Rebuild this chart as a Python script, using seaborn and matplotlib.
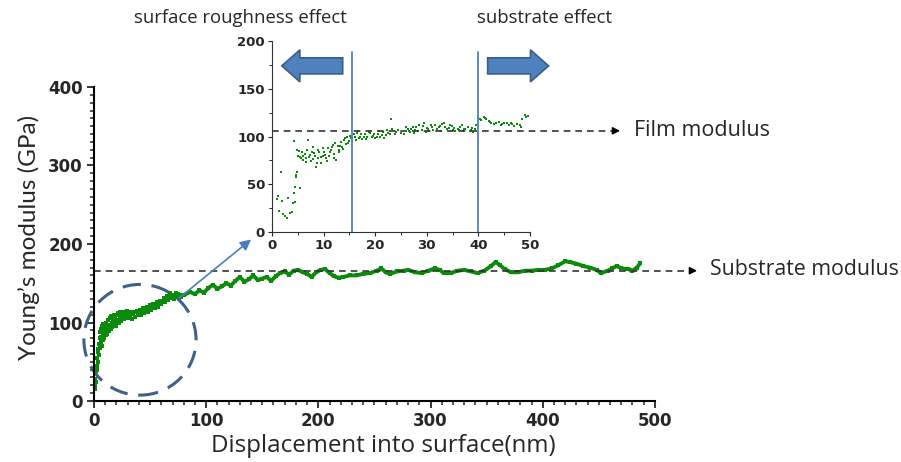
import matplotlib
matplotlib.use("Agg")
import matplotlib.pyplot as plt
from matplotlib.patches import Ellipse
from matplotlib.ticker import MultipleLocator
import seaborn as sns
import pandas as pd

# main curve, noisy start (displacement nm, modulus GPa)
early_x = [0.5, 1, 1.2, 1.5, 2, 2.3, 2.6, 3, 3.3, 3.6,
           4, 4.3, 4.6, 5, 5.3, 5.6, 6, 6.3, 6.6, 7,
           7.3, 7.6, 8, 8.4, 8.8, 9.2, 9.6, 10, 10.5, 11,
           11.5, 12, 12.5, 13, 13.5, 14, 14.5, 15, 15.5, 16,
           16.5, 17, 17.5, 18, 18.5, 19, 19.5, 20, 21, 21.5,
           22, 23, 23.5, 24, 25, 25.5, 26, 27, 28, 28.5,
           29, 30, 31, 32, 33, 34, 35, 36, 37, 38,
           39, 40, 41, 42, 43, 44, 45, 46, 47, 48,
           49, 50, 51, 52, 53, 54, 55, 56, 57, 58,
           59, 60, 61, 62, 63, 64, 65, 66, 67, 68,
           69, 70, 71, 72, 73, 74, 75, 76, 77, 78]
early_y = [15, 28, 20, 38, 24, 45, 55, 40, 62, 50,
           66, 72, 58, 80, 68, 88, 75, 92, 82, 70,
           95, 85, 78, 98, 88, 80, 96, 90, 84, 100,
           92, 86, 103, 95, 89, 106, 97, 92, 108, 99,
           94, 104, 110, 98, 105, 101, 96, 109, 103, 112,
           99, 107, 113, 102, 110, 105, 114, 104, 111, 107,
           115, 106, 112, 108, 114, 105, 111, 113, 107, 115,
           109, 112, 116, 110, 114, 118, 112, 116, 120, 114,
           118, 122, 116, 120, 124, 118, 122, 126, 120, 125,
           128, 123, 127, 131, 126, 130, 134, 129, 133, 137,
           131, 135, 130, 134, 138, 132, 136, 131, 135, 133]

# main curve, smoother tail
tail_x = [80, 86, 90, 94, 98, 102, 106, 110, 114, 118, 122, 126, 130, 134, 138, 142, 146, 150,
          154, 158, 162, 166, 170, 174, 178, 182, 186, 190, 194, 198, 202, 206, 210, 214, 218,
          222, 228, 234, 240, 246, 252, 256, 260, 264, 270, 276, 280, 286, 292, 298, 304, 308,
          312, 318, 324, 330, 336, 342, 348, 354, 358, 362, 366, 372, 378, 384, 390, 396, 402,
          408, 414, 420, 424, 430, 436, 442, 448, 452, 458, 462, 466, 470, 476, 480, 484, 487]
tail_y = [135, 139, 136, 141, 138, 144, 148, 143, 146, 150, 147, 153, 158, 152, 155, 160, 154, 156,
          158, 153, 159, 163, 165, 161, 166, 167, 164, 162, 158, 164, 167, 168, 163, 159, 157,
          158, 160, 160, 162, 163, 166, 169, 164, 162, 165, 166, 167, 164, 163, 166, 169, 167,
          163, 163, 166, 167, 165, 163, 166, 172, 177, 173, 168, 164, 164, 166, 166, 167, 167,
          169, 173, 178, 177, 175, 172, 170, 167, 163, 166, 169, 172, 169, 168, 166, 170, 176]

# inset: film data in the first 50 nm
inset_x = [1.0, 1.2, 1.4, 1.7, 1.9, 2.1, 2.5, 2.9, 3.1, 3.5, 3.9, 4.1, 4.2, 4.3, 4.4, 4.5, 4.6, 4.7,
           4.8, 4.9, 5.1, 5.4, 5.5, 5.8, 6.0, 6.3, 6.6, 7.0, 7.2, 7.5, 7.8, 8.0, 8.3, 8.6, 8.9, 9.2,
           9.5, 9.8, 10.1, 10.5, 10.8, 11.1, 11.5, 11.8, 12.1, 12.4, 12.7, 13.0, 13.3, 13.6, 14.0,
           14.3, 14.6, 15.0, 15.4, 15.8, 16.2, 16.6, 17.0, 17.5, 18.0, 18.5, 19.0, 19.5, 20.0, 20.5,
           21.0, 21.5, 22.0, 22.5, 23.0, 23.3, 23.8, 24.5, 25.5, 26.0, 26.5, 27.0, 27.5, 28.0, 28.5,
           29.0, 29.5, 30.0, 30.5, 31.0, 31.5, 32.0, 32.5, 33.0, 33.5, 34.0, 34.5, 35.0, 35.5, 36.0,
           36.5, 37.0, 37.5, 38.0, 38.5, 39.0, 39.5, 40.0, 40.5, 41.0, 41.5, 42.0, 42.5, 43.0, 43.5,
           44.0, 44.5, 45.0, 45.5, 46.0, 46.5, 47.0, 47.5, 48.0, 48.5, 49.0, 49.3, 49.6,
           5.2, 5.7, 6.1, 6.5, 6.8, 7.4, 7.9, 8.2, 8.7, 9.0,
           9.4, 9.9, 10.3, 10.7, 11.3, 11.7, 12.0, 12.3, 12.9, 13.2,
           13.8, 14.2, 14.8, 15.2, 15.6, 16.0, 16.4, 16.8, 17.2, 17.8,
           18.3, 18.8, 19.3, 19.8, 20.3, 20.8, 21.3, 21.8, 22.3, 22.8,
           24.0, 25.0, 26.3, 26.8, 27.3, 27.8, 28.3, 29.3, 29.8, 30.3,
           30.8, 31.3, 32.3, 32.8, 33.3, 34.3, 34.8, 35.3, 36.3, 36.8,
           37.3, 38.3, 38.8, 39.3, 40.3, 41.3, 42.3, 44.3, 46.3, 48.3]
inset_y = [35, 38, 22, 63, 33, 19, 17, 15, 36, 20, 21, 30, 95, 41, 31, 47, 58, 60,
           63, 86, 80, 46, 79, 84, 75, 82, 78, 96, 79, 74, 84, 89, 80, 68, 78, 84,
           72, 80, 84, 77, 88, 80, 86, 91, 82, 75, 90, 86, 94, 89, 96,
           92, 100, 95, 98, 103, 96, 106, 100, 97, 103, 99, 104, 101, 98, 103,
           100, 105, 102, 104, 118, 108, 103, 107, 103, 110, 106, 108, 104, 110, 112,
           107, 114, 109, 106, 110, 112, 108, 111, 113, 110, 108, 112, 107, 106, 108,
           110, 106, 108, 110, 107, 105, 112, 119, 117, 120, 118, 116, 114, 113, 114,
           115, 113, 114, 114, 112, 113, 111, 113, 112, 118, 123, 120, 121,
           85, 77, 80, 73, 86, 81, 76, 83, 72, 86,
           79, 88, 81, 74, 84, 89, 78, 93, 84, 90,
           87, 98, 93, 101, 95, 100, 104, 98, 103, 100,
           97, 105, 99, 103, 100, 106, 102, 98, 107, 103,
           105, 104, 108, 105, 110, 107, 106, 111, 105, 108,
           112, 107, 110, 106, 114, 109, 111, 109, 107, 112,
           108, 106, 109, 108, 118, 119, 115, 112, 114, 110]

substrate_modulus = 166
film_modulus = 106
boundaries = [15.5, 40]

main_xticks = [0, 100, 200, 300, 400, 500]
main_yticks = [0, 100, 200, 300, 400]
inset_xticks = [0, 10, 20, 30, 40, 50]
inset_yticks = [0, 50, 100, 150, 200]

GREEN = "#0c8a0c"
BLUE = "#4f81bd"
TEXT_FONT = ["Open Sans", "DejaVu Sans"]

sns.set_style("ticks")
plt.rcParams["font.family"] = ["DejaVu Sans"]

fig = plt.figure(figsize=(9.01, 4.62), dpi=100)
ax = fig.add_axes([0.1043, 0.132, 0.6226, 0.6797])
ax_in = fig.add_axes([0.3019, 0.4978, 0.2863, 0.4134])
ax_in.set_facecolor("none")

# ---- main plot ----
early = pd.DataFrame({"x": early_x, "y": early_y})
tail = pd.DataFrame({"x": tail_x, "y": tail_y})
sns.lineplot(data=tail, x="x", y="y", ax=ax, color=GREEN, lw=2.8, sort=False,
             marker="s", markersize=3, markeredgewidth=0)
sns.scatterplot(data=early, x="x", y="y", ax=ax, color=GREEN, marker="s", s=9,
                linewidth=0)

ax.set_xlim(0, 500)
ax.set_ylim(0, 400)
ax.set_xticks(main_xticks)
ax.set_yticks(main_yticks)
ax.xaxis.set_minor_locator(MultipleLocator(10))
ax.yaxis.set_minor_locator(MultipleLocator(10))
ax.tick_params(which="major", length=5, width=1.3, labelsize=12, pad=3)
ax.tick_params(which="minor", length=3, width=1.1)
for lbl in ax.get_xticklabels() + ax.get_yticklabels():
    lbl.set_fontweight("bold")
for side in ["top", "right"]:
    ax.spines[side].set_visible(False)
for side in ["left", "bottom"]:
    ax.spines[side].set_linewidth(1.5)
    ax.spines[side].set_color("black")

ax.set_xlabel("Displacement into surface(nm)", fontsize=17.4, family=TEXT_FONT)
ax.set_ylabel("Young\u2019s modulus (GPa)", fontsize=17.5, family=["Lato", "DejaVu Sans"])
ax.xaxis.set_label_coords(0.515, -0.105)
ax.yaxis.set_label_coords(-0.096, 0.52)

# substrate modulus reference
ax.plot([0, 532], [substrate_modulus] * 2, ls=(0, (4, 3)), color="#333333", lw=1.2,
        clip_on=False)
ax.annotate("", xy=(540, substrate_modulus), xytext=(530, substrate_modulus),
            arrowprops=dict(arrowstyle="-|>", color="black", lw=1, mutation_scale=11),
            annotation_clip=False)
fig.text(0.788, 0.4156, "Substrate modulus", fontsize=15.3, family=TEXT_FONT, va="center")

# highlighted region and pointer to the inset
ax.add_patch(Ellipse((41, 78), 100, 141, fill=False, ec="#3e6089", lw=2.2,
                     ls=(0, (6, 3.5)), clip_on=False))
ax.annotate("", xy=(142, 208), xytext=(74, 129),
            arrowprops=dict(arrowstyle="-|>", color="#4a7ebb", lw=1.2, mutation_scale=16))

# ---- inset ----
sns.scatterplot(x=inset_x, y=inset_y, ax=ax_in, color=GREEN, marker="s", s=3, linewidth=0)
ax_in.set_xlim(0, 50)
ax_in.set_ylim(0, 200)
ax_in.set_xticks(inset_xticks)
ax_in.set_yticks(inset_yticks)
ax_in.xaxis.set_minor_locator(MultipleLocator(5))
ax_in.yaxis.set_minor_locator(MultipleLocator(25))
ax_in.tick_params(which="major", length=3, width=0.8, labelsize=9.5, pad=2)
ax_in.tick_params(which="minor", length=2, width=0.7)
for lbl in ax_in.get_xticklabels() + ax_in.get_yticklabels():
    lbl.set_fontweight("bold")
for side in ["top", "right"]:
    ax_in.spines[side].set_visible(False)
for side in ["left", "bottom"]:
    ax_in.spines[side].set_linewidth(0.8)
    ax_in.spines[side].set_color("#333333")

for b in boundaries:
    ax_in.plot([b, b], [0, 188], color=BLUE, lw=1.3)

ax_in.plot([0, 66.5], [film_modulus] * 2, ls=(0, (4, 3)), color="#333333", lw=1.2,
           clip_on=False)
ax_in.annotate("", xy=(68, film_modulus), xytext=(66, film_modulus),
               arrowprops=dict(arrowstyle="-|>", color="black", lw=1, mutation_scale=11),
               annotation_clip=False)
fig.text(0.7037, 0.7165, "Film modulus", fontsize=15.5, family=TEXT_FONT, va="center")

# block arrows for the two regions
ax_in.arrow(13.7, 174, -11.8, 0, width=16.8, head_width=33.5, head_length=3.5,
            length_includes_head=True, fc=BLUE, ec="#385d8a", lw=1.2, clip_on=False)
ax_in.arrow(41.8, 174, 11.8, 0, width=16.8, head_width=33.5, head_length=3.5,
            length_includes_head=True, fc=BLUE, ec="#385d8a", lw=1.2, clip_on=False)

fig.text(0.2664, 0.961, "surface roughness effect", fontsize=13.3, family=TEXT_FONT,
         ha="center", va="center")
fig.text(0.6038, 0.961, "substrate effect", fontsize=13.3, family=TEXT_FONT,
         ha="center", va="center")

fig.savefig("out.png", dpi=100)
